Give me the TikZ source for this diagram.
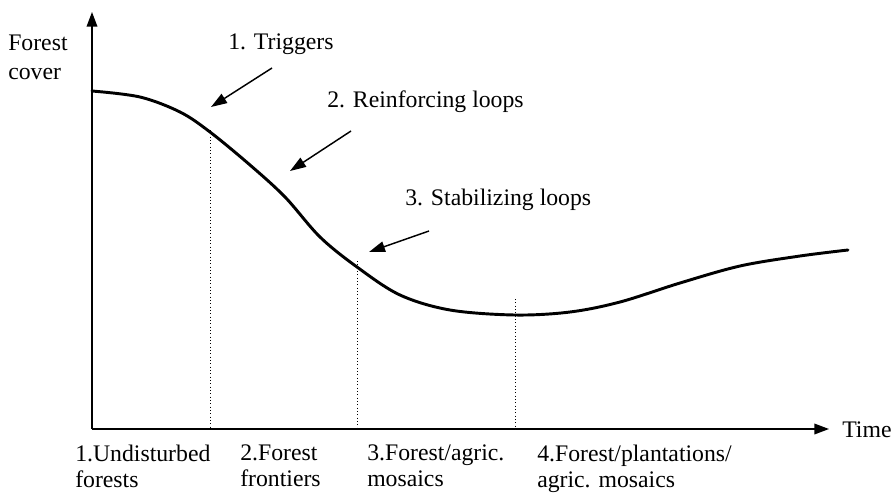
\documentclass[tikz,border=0pt]{standalone}
\usepackage{fontspec}
\setmainfont{Liberation Serif}
\usetikzlibrary{arrows.meta}
\begin{document}
\begin{tikzpicture}[x=0.75pt,y=-0.75pt,
  lbl/.style={inner sep=0pt,font=\fontsize{17.8}{19.3}\selectfont,align=left},
  axis/.style={line width=1.1pt,-{Triangle[length=11pt,width=8pt]}},
  pointer/.style={line width=1.1pt,-{Triangle[length=12pt,width=8pt]}},
  guide/.style={line width=0.5pt,dotted},
  curve/.style={line width=2.2pt,line cap=round}]
\useasboundingbox (0,0) rectangle (895,493);
% axes
\coordinate (o) at (92,429);
\coordinate (ytip) at (92,12);
\coordinate (xtip) at (829,429);
\draw[axis] (o) -- (ytip);
\draw[axis] (o) -- (xtip);
\node[lbl,anchor=west] (time) at (842,430) {Time};
\node[lbl,anchor=north west,font=\fontsize{17.8}{21.5}\selectfont] (fc) at (8,35) {Forest\\cover};
% curve
\draw[curve] plot[smooth,tension=0.55] coordinates {(92,91) (140,97) (180,112) (210,132) (250,165) (285,197) (320,237) (357,267) (400,295) (450,310) (515,315) (570,312) (620,302) (680,283) (740,266) (800,256) (848,250)};
% dotted guides
\coordinate (g1t) at (210,130); \coordinate (g1b) at (210,428);
\coordinate (g2t) at (357,261); \coordinate (g2b) at (357,428);
\coordinate (g3t) at (515,299); \coordinate (g3b) at (515,428);
\draw[guide] (g1t) -- (g1b);
\draw[guide] (g2t) -- (g2b);
\draw[guide] (g3t) -- (g3b);
% labels and pointers
\node[lbl,anchor=west] (trig) at (228,44) {1. Triggers};
\node[lbl,anchor=west] (reinf) at (327,102) {2. Reinforcing loops};
\node[lbl,anchor=west] (stab) at (405,200) {3. Stabilizing loops};
\coordinate (a1s) at (272,68); \coordinate (a1e) at (211,107);
\coordinate (a2s) at (351,131); \coordinate (a2e) at (290,171);
\coordinate (a3s) at (429,231); \coordinate (a3e) at (369,252);
\draw[pointer] (a1s) -- (a1e);
\draw[pointer] (a2s) -- (a2e);
\draw[pointer] (a3s) -- (a3e);
% phase labels
\node[lbl,anchor=north west] (p1) at (75,445) {1.Undisturbed\\forests};
\node[lbl,anchor=north west] (p2) at (240,445) {2.Forest\\frontiers};
\node[lbl,anchor=north west] (p3) at (367,445) {3.Forest/agric.\\mosaics};
\node[lbl,anchor=north west] (p4) at (537,445) {4.Forest/plantations/\\agric. mosaics};
\end{tikzpicture}
\end{document}
